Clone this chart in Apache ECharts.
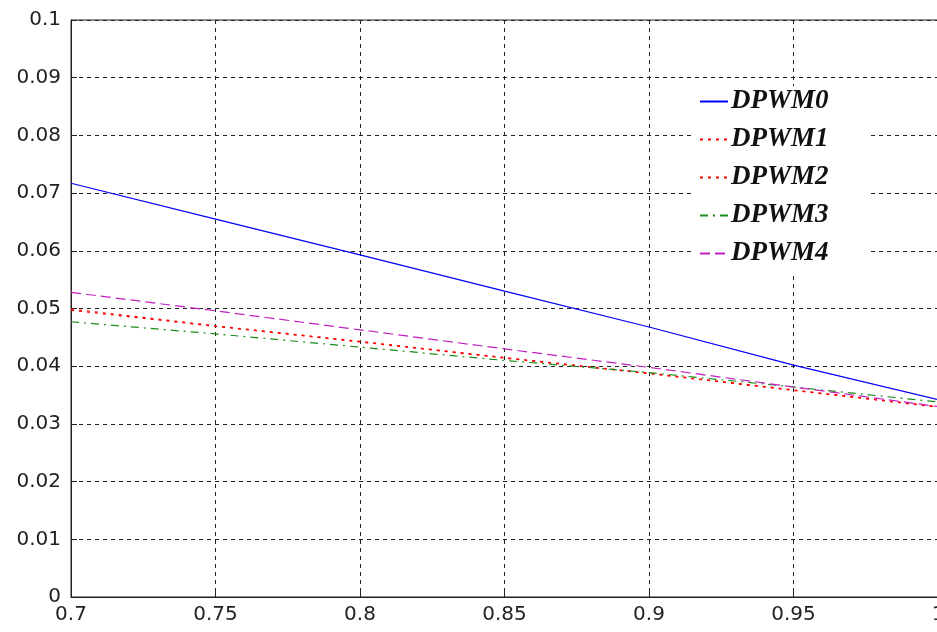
<!DOCTYPE html>
<html><head><meta charset="utf-8">
<script src="https://cdn.jsdelivr.net/npm/echarts@6/dist/echarts.min.js"></script>
<style>html,body{margin:0;padding:0;background:#fff}#c{width:937px;height:632px}</style>
</head><body><div id="c"></div>
<script>
const xValues = [0.7, 0.75, 0.8, 0.85, 0.9, 0.95, 1.0];
const seriesNames = ['DPWM0', 'DPWM1', 'DPWM2', 'DPWM3', 'DPWM4'];
const dpwm0 = [0.0717, 0.0655, 0.0593, 0.0530, 0.0468, 0.0402, 0.0342];
const dpwm1 = [0.0499, 0.0470, 0.0443, 0.0415, 0.0388, 0.0359, 0.0330];
const dpwm2 = [0.0497, 0.0469, 0.0442, 0.0414, 0.0387, 0.0358, 0.0329];
const dpwm3 = [0.0477, 0.0456, 0.0433, 0.0410, 0.0389, 0.0364, 0.0338];
const dpwm4 = [0.0528, 0.0496, 0.0463, 0.0430, 0.0398, 0.0364, 0.0330];

const allData = [dpwm0, dpwm1, dpwm2, dpwm3, dpwm4];
const colors = ['#0000ff', '#ff0000', '#ff0000', '#1a8c1a', '#c020c0'];
const dashes = ['solid', [3, 5], [3, 5], [8, 5, 2, 5], [10, 5]];

const chart = echarts.init(document.getElementById('c'));
const gridLine = { show: true, lineStyle: { color: '#222', type: [4, 4], width: 1 } };
const labelStyle = { fontSize: 20, color: '#222', fontFamily: 'DejaVu Sans', formatter: v => String(+v.toFixed(2)) };
chart.setOption({
  animation: false,
  backgroundColor: '#fff',
  grid: { left: 71, top: 20, right: -1, bottom: 35, containLabel: false, outerBoundsMode: 'none',
          show: true, borderColor: '#222', borderWidth: 1, backgroundColor: 'transparent' },
  legend: {
    orient: 'vertical', left: 693, top: 86,
    backgroundColor: '#fff',
    padding: [2, 42, 6, 6],
    itemWidth: 28, itemHeight: 14, itemGap: 11,
    itemStyle: { opacity: 0 },
    data: seriesNames,
    textStyle: { fontFamily: 'Liberation Serif', fontStyle: 'italic', fontWeight: 'bold', fontSize: 27, color: '#111', padding: [0, 0, 0, -2] }
  },
  xAxis: {
    type: 'value', min: 0.7, max: 1, interval: 0.05,
    axisLine: { show: true, lineStyle: { color: '#222', width: 1 } },
    axisTick: { show: true, inside: true, length: 6, lineStyle: { color: '#222' } },
    axisLabel: Object.assign({ margin: 8 }, labelStyle),
    splitLine: gridLine
  },
  yAxis: {
    type: 'value', min: 0, max: 0.1, interval: 0.01,
    axisLine: { show: true, lineStyle: { color: '#222', width: 1 } },
    axisTick: { show: true, inside: true, length: 6, lineStyle: { color: '#222' } },
    axisLabel: Object.assign({ margin: 10 }, labelStyle),
    splitLine: gridLine
  },
  series: allData.map((d, i) => ({
    name: seriesNames[i], type: 'line', symbol: 'none', z: 3,
    data: d.map((y, j) => [xValues[j], y]),
    lineStyle: { color: colors[i], width: 1.2, type: dashes[i] },
    itemStyle: { color: colors[i] }
  }))
});
</script></body></html>
